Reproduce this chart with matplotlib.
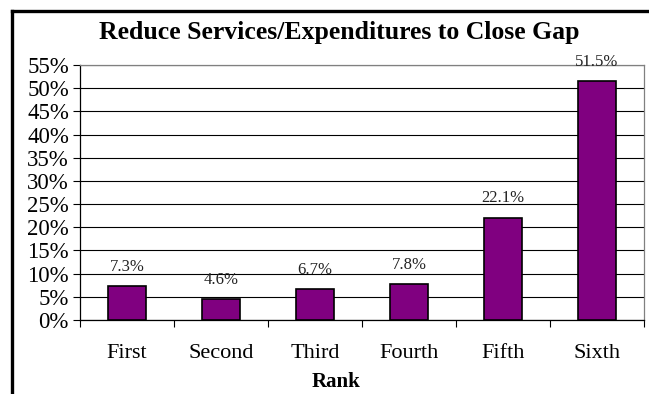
import matplotlib
matplotlib.use("Agg")
import matplotlib.pyplot as plt
from matplotlib.lines import Line2D
from matplotlib.ticker import MultipleLocator, PercentFormatter

categories = ["First", "Second", "Third", "Fourth", "Fifth", "Sixth"]
values = [7.3, 4.6, 6.7, 7.8, 22.1, 51.5]
value_labels = ["7.3%", "4.6%", "6.7%", "7.8%", "22.1%", "51.5%"]

W, H = 649, 394
fig = plt.figure(figsize=(W / 100, H / 100), dpi=100)
serif = ["Liberation Serif", "DejaVu Serif"]

ax = fig.add_axes([80 / W, 1 - 320 / H, (644 - 80) / W, (320 - 65) / H])

x = list(range(len(categories)))
ax.bar(x, values, width=0.41, color="#800080", edgecolor="black", linewidth=1.2, zorder=3)

for xi, v, lab in zip(x, values, value_labels):
    ax.annotate(lab, (xi, v), xytext=(0, 8), textcoords="offset points",
                ha="center", va="bottom", fontsize=12, family=serif,
                color="#222222", annotation_clip=False)

ax.set_xlim(-0.5, len(categories) - 0.5)
ax.set_ylim(0, 55)
ax.yaxis.set_major_locator(MultipleLocator(5))
ax.yaxis.set_major_formatter(PercentFormatter(decimals=0))
ax.grid(axis="y", color="black", linewidth=0.8, zorder=0)

ax.set_xticks(x)
ax.set_xticklabels(categories, family=serif, fontsize=16)
ax.set_xticks([i - 0.5 for i in range(len(categories) + 1)], minor=True)
ax.tick_params(axis="x", which="major", length=0, pad=17)
ax.tick_params(axis="x", which="minor", length=5, width=0.8, direction="out")
ax.tick_params(axis="y", length=5, width=0.8, direction="out", pad=3)
for t in ax.get_yticklabels():
    t.set_family(serif)
    t.set_fontsize(16.5)

for side in ["left", "bottom"]:
    ax.spines[side].set_color("black")
    ax.spines[side].set_linewidth(0.9)
for side in ["top", "right"]:
    ax.spines[side].set_color("#808080")
    ax.spines[side].set_linewidth(0.9)

fig.text(339 / W, 1 - 33 / H, "Reduce Services/Expenditures to Close Gap",
         ha="center", va="center", fontsize=18.5, fontweight="bold", family=serif)
fig.text(336 / W, 1 - 382 / H, "Rank", ha="center", va="center",
         fontsize=15, fontweight="bold", family=serif)

# outer chart frame (top and left edges)
fig.add_artist(Line2D([12 / W, 1.0], [1 - 10.5 / H, 1 - 10.5 / H],
                      transform=fig.transFigure, color="black", linewidth=2.4,
                      solid_capstyle="projecting"))
fig.add_artist(Line2D([12 / W, 12 / W], [1 - 10.5 / H, 0.0],
                      transform=fig.transFigure, color="black", linewidth=2.4,
                      solid_capstyle="projecting"))

fig.savefig("out.png", dpi=100)
